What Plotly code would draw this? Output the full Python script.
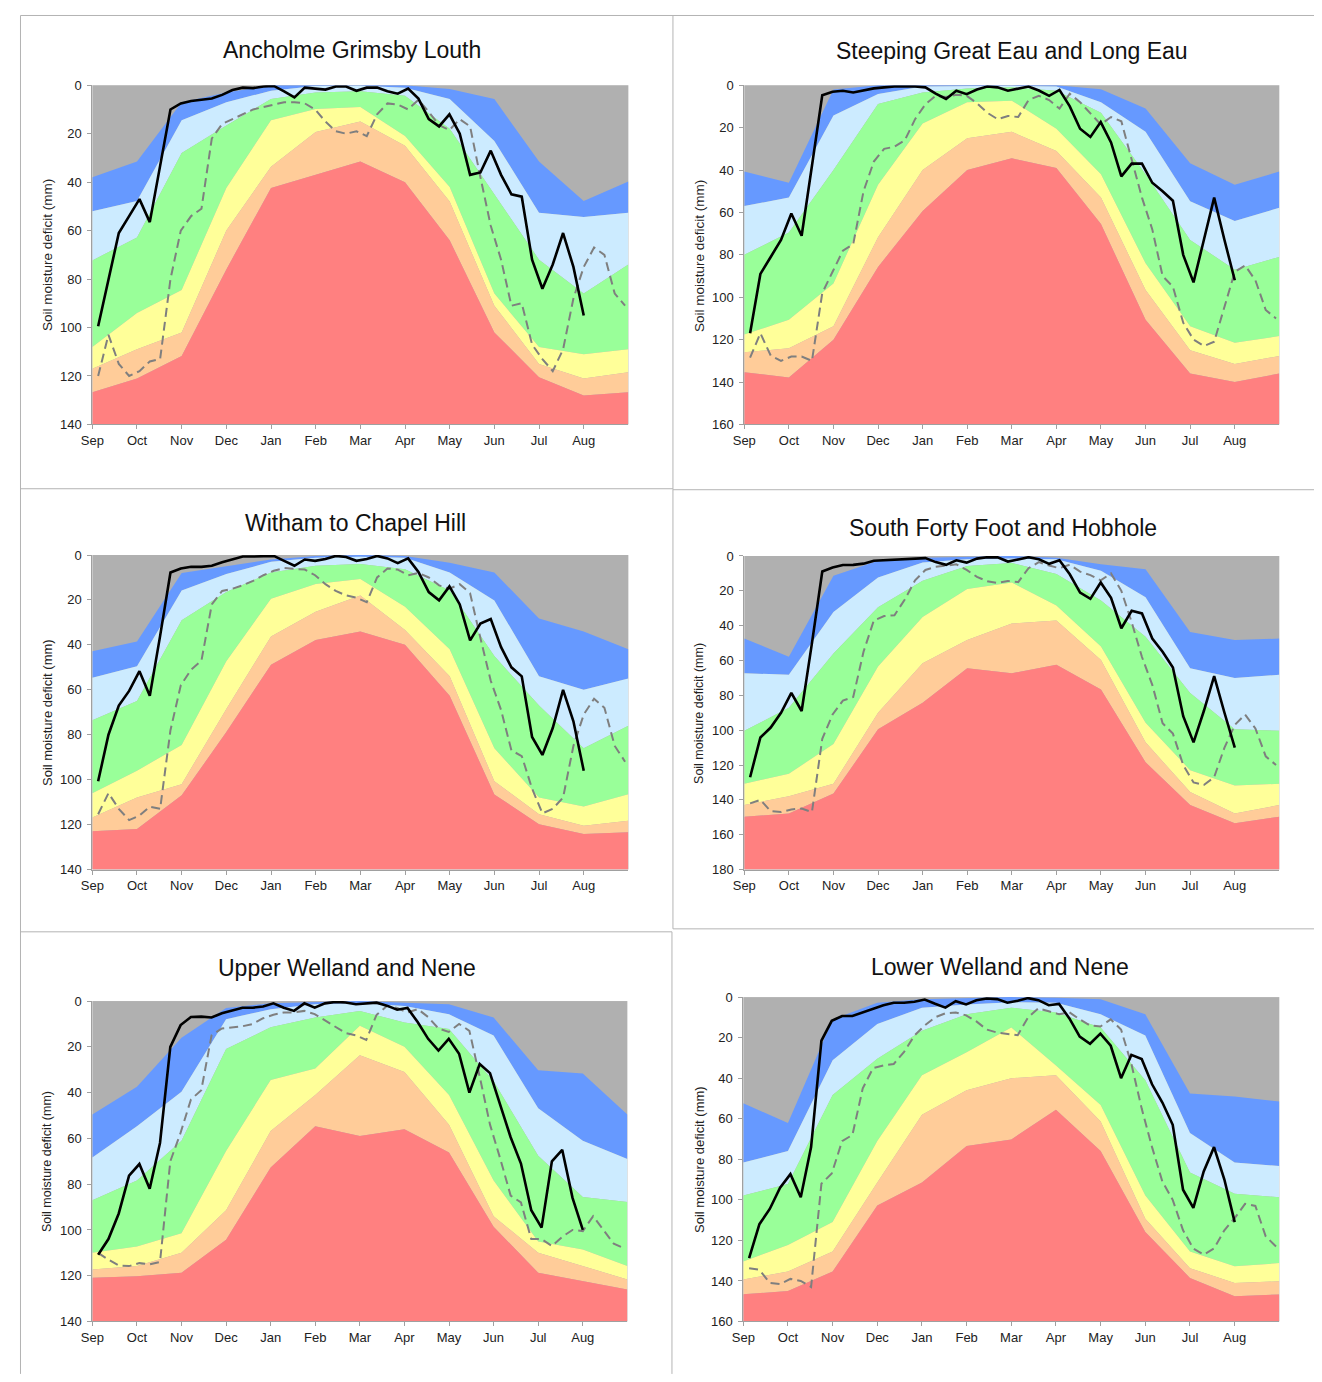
import plotly.graph_objects as go

PAGE_W, PAGE_H = 1322, 1382
BODY = 8                          # default page margin of the browser
W, H = PAGE_W - 2 * BODY, PAGE_H - 2 * BODY

MONTHS = ["Sep", "Oct", "Nov", "Dec", "Jan", "Feb", "Mar", "Apr", "May", "Jun", "Jul", "Aug"]
BAND_X = list(range(13))          # month starts Sep..Aug plus end of Aug
WEEK_START = 0.13                 # first weekly value (months after 1 Sep)
WEEK_STEP = 0.2313                # one week in months

# ---------------- Ancholme Grimsby Louth ----------------
ANC_BLUE   = [38, 31.5, 7, 3, 0, 0, 0, 0, 1.6, 5.7, 31.5, 47.8, 39.7]
ANC_LBLUE  = [52, 47.8, 14.5, 7, 2.3, 0.3, 0.2, 1, 5.7, 23, 52.6, 54.4, 52.6]
ANC_GREEN  = [72.3, 62.8, 28, 16.6, 5.7, 3, 2.5, 4.3, 18, 45, 72, 86, 74]
ANC_YELLOW = [108, 94, 84.5, 42.4, 14.5, 9.8, 9, 21, 42, 86, 108, 111, 109]
ANC_ORANGE = [117, 109, 102, 60, 33.6, 19.3, 15, 25, 48, 91, 115, 121, 118.5]
ANC_RED    = [126.7, 121, 111.7, 76, 42.4, 37, 31.5, 40, 64, 102, 120.5, 128, 126.7]
ANC_ACTUAL = [99.5, 80, 61, 54, 47, 56.5, 33, 10, 7.5, 6.5, 6, 5.5, 4, 2, 1, 1.2, 0.5, 0.3, 2.5, 5, 1, 1.3, 1.8, 0.5, 0.5,
              2.3, 1, 1, 2.5, 3.5, 1.4, 5.5, 14, 17, 12, 20, 37, 36, 27, 37, 45, 46, 72, 84, 74, 61, 75, 95]
ANC_LAST   = [120, 103, 115, 120, 118, 114, 113, 80, 60, 54, 51, 22, 16, 14, 12, 10, 9, 8, 7, 7, 7.5, 10, 15, 19, 20,
              19, 21, 12, 7.5, 8, 10, 6, 11, 16.5, 18.5, 14, 17, 38, 58, 72, 91, 90, 107, 113, 118, 109, 88, 75, 67, 70, 86, 91]

# ---------------- Steeping Great Eau and Long Eau ----------------
STE_BLUE   = [40.7, 46, 2, 0, 0, 0, 0, 0, 1.9, 11, 36.8, 47, 40.7]
STE_LBLUE  = [57, 53, 14.3, 4.2, 0.6, 0.3, 0.3, 0.6, 8, 22, 54.7, 64, 57.8]
STE_GREEN  = [80, 69.5, 40, 8.9, 3.4, 1.5, 1, 2.6, 13, 42, 73, 87, 81]
STE_YELLOW = [117.6, 110.6, 93.5, 47, 18, 8, 7.3, 20.5, 42, 84, 113.7, 121.5, 118.3]
STE_ORANGE = [126, 124, 113.7, 71.7, 40, 25, 22, 31, 53, 96.6, 125, 131.5, 127.7]
STE_RED    = [135.4, 137.8, 120, 85.7, 59.3, 40, 34.5, 39, 65.5, 110.6, 136, 140, 136]
STE_ACTUAL = [117, 89, 81, 73, 60.5, 71, 38, 4.7, 3.1, 2.6, 3.4, 2.5, 1.5, 1, 0.6, 0.6, 0.6, 1, 4, 6.5, 2.6, 4.2, 2, 0.6, 1,
              2.6, 1.5, 0.6, 2.5, 5, 2.2, 10, 20.5, 24.4, 17.4, 27, 43, 37, 37, 46, 50, 54.5, 80, 93, 73, 53, 73, 92]
STE_LAST   = [128.5, 117, 127.5, 130, 128, 128, 130, 98, 88, 78, 75, 50, 36, 30, 29, 26, 16, 9, 5, 5.5, 4.5, 5, 8.5, 13, 16,
              14.5, 15, 7, 5, 7, 11, 4, 8, 13, 18.5, 15, 17, 35, 53, 68, 90, 95, 112, 120, 123, 121, 104, 88, 85, 92, 106, 110]

# ---------------- Witham to Chapel Hill ----------------
WIT_BLUE   = [42.9, 38.5, 8, 5, 2, 0.5, 0, 0.4, 3.4, 7.8, 28.3, 34, 42]
WIT_LBLUE  = [54.6, 49.5, 15.8, 8.5, 3, 1.2, 0.8, 1.2, 7.8, 20.2, 54, 60, 55]
WIT_GREEN  = [73.6, 65, 29, 16.5, 7.8, 4.8, 4, 6.3, 15.8, 45, 67, 86, 76]
WIT_YELLOW = [106, 96, 84.6, 47.3, 19.5, 12.9, 10.7, 23, 42, 86, 108, 112, 106.5]
WIT_ORANGE = [116.8, 108, 102, 68.5, 36.3, 25.3, 18, 33.4, 54, 100.7, 115.4, 120.5, 118.3]
WIT_RED    = [123, 122, 107, 78.8, 48.8, 37.8, 34.1, 40, 62.7, 106.6, 119.8, 124.2, 123.4]
WIT_ACTUAL = [100.7, 80, 67, 60.5, 51.7, 62.7, 36, 7.8, 6, 5.2, 5.3, 4.8, 3.2, 2, 0.7, 0.7, 0.6, 0.4, 2.6, 4.8, 2, 2.6, 1.8, 0.4, 0.9,
              2.6, 1.8, 0.4, 1.5, 3.6, 1.5, 7.5, 16.5, 20.2, 14, 22, 38, 30.5, 28.5, 41, 50, 54, 81, 89, 77, 60, 74, 96]
WIT_LAST   = [115.4, 106, 113, 118, 116, 112, 113, 78, 58, 51, 47, 22, 16, 15, 13.5, 11.5, 9, 7, 5.8, 6, 6.5, 9, 13, 16, 18,
              19, 21, 10, 6, 6.5, 9, 8, 10, 13.5, 15, 13, 17, 37, 56, 69, 87, 89.5, 104, 115, 113, 108, 85, 71, 64, 68, 85, 92]

# ---------------- South Forty Foot and Hobhole ----------------
SFF_BLUE   = [47.4, 57.8, 11.4, 2.8, 1, 0.5, 0, 1, 4.7, 7.6, 43.6, 48.3, 47.4]
SFF_LBLUE  = [67.3, 68.2, 32.2, 12.3, 3.8, 1.9, 1.5, 1.9, 8.5, 23.7, 64.4, 70, 68.2]
SFF_GREEN  = [100.4, 87.2, 56, 29.4, 14.2, 5.7, 4, 10.4, 25.6, 46.4, 78.6, 99.5, 100.4]
SFF_YELLOW = [130.8, 125, 108, 63.5, 35, 19, 15.2, 28.4, 52, 95.7, 123, 131.7, 130.8]
SFF_ORANGE = [143, 138, 130.8, 90, 61.6, 48.3, 38.8, 37, 59.7, 107, 135.5, 147.8, 143]
SFF_RED    = [149.7, 147.8, 136.4, 99.5, 84.3, 64.4, 67.3, 62.5, 76.7, 118.4, 143, 153.5, 149.7]
SFF_ACTUAL = [127, 104.2, 98.5, 90, 78.6, 89, 50, 8.9, 6.6, 5.2, 5.1, 4.4, 2.7, 2.4, 1.7, 1.5, 1.3, 1.2, 3.5, 5.1, 2.5, 3.8, 1.5, 0.7, 0.8,
              3.2, 2, 0.7, 1.9, 4.5, 2.5, 10.5, 21, 24.6, 15.2, 24, 41.5, 31.5, 33, 47.4, 55, 64, 92, 107, 89, 69, 90, 110]
SFF_LAST   = [142, 140, 146.5, 147, 145.5, 145, 147, 105, 91, 83, 81, 55, 37, 34.5, 34, 25, 14, 8, 6.2, 5.3, 4.8, 8, 12, 14.5, 15.5,
              14.3, 15, 7, 3.5, 5.5, 7, 5, 9, 11, 14, 10, 20, 38, 58, 74, 96, 102, 120, 130, 131.5, 127, 110, 97, 91, 99, 115, 120]

# ---------------- Upper Welland and Nene ----------------
UWN_BLUE   = [49.6, 37.4, 16, 3, 1, 0.5, 0, 0.7, 1.4, 7.2, 30.2, 31.7, 49.6]
UWN_LBLUE  = [68.4, 54.7, 39.6, 7.9, 3.6, 1.4, 1, 2.2, 5.8, 15.1, 46.8, 61, 69]
UWN_GREEN  = [87, 78.4, 61, 20.9, 11.5, 7.2, 4.3, 9.4, 12.2, 35, 67.6, 85.6, 87.8]
UWN_YELLOW = [110, 107.2, 101.4, 65.5, 34.5, 29.5, 10.8, 20, 41, 78.4, 105, 108.6, 115.8]
UWN_ORANGE = [117.3, 115.8, 110, 91.4, 56.8, 41, 23.7, 31, 54, 94, 110, 115.8, 121.6]
UWN_RED    = [120.9, 120.2, 118.7, 104.3, 72.7, 54.7, 59, 56, 66.2, 98.6, 118.7, 122.3, 126]
UWN_ACTUAL = [110.8, 104, 92.8, 76.3, 71.2, 82, 62, 20, 10.5, 7, 6.8, 7.2, 5.3, 4, 2.9, 2.9, 2.4, 1, 2.9, 4.3, 1, 2.9, 1, 0.4, 0.6,
              1.4, 1, 0.7, 2, 3.8, 3, 9.3, 16.5, 21.6, 16.5, 23, 40, 27.5, 31.5, 46, 59.5, 71, 91.4, 99, 70, 65, 86, 100]
UWN_LAST   = [110, 113, 115.5, 115.8, 114.5, 115, 114, 70, 57.5, 43, 39, 15, 12, 11.5, 11, 10, 7.5, 6, 5, 5, 4.3, 5.7, 8.5, 11.5, 14,
              15, 17, 6, 2.2, 3, 5, 3.5, 7, 12, 13.5, 10, 13, 33, 54, 69, 85, 88, 104, 104, 107, 103, 100, 100.5, 94, 100, 106, 108]

# ---------------- Lower Welland and Nene ----------------
LWN_BLUE   = [52.4, 62.1, 11, 2.8, 1.1, 0.5, 0, 0.3, 1.1, 8.5, 47.5, 49, 51.5]
LWN_LBLUE  = [81.6, 75.9, 31.2, 13.3, 5.2, 3.6, 2.5, 2.8, 8.5, 19, 67, 81.6, 83.3]
LWN_GREEN  = [97.9, 92.2, 48.3, 30.4, 16.6, 8.5, 5.2, 7.6, 15, 41, 86.5, 97, 98.7]
LWN_YELLOW = [130.4, 122.3, 110.9, 71, 38.5, 27.2, 15, 33.7, 53.2, 97.9, 125.5, 132.8, 131.2]
LWN_ORANGE = [139.3, 135.3, 125.5, 91.4, 58, 45.9, 40, 38.5, 61.3, 109.3, 133.7, 141, 140.2]
LWN_RED    = [146.6, 145, 135.3, 102.8, 91.4, 73.5, 70.2, 55.6, 75.9, 115.8, 138.5, 147.5, 146.7]
LWN_ACTUAL = [128.8, 112, 104.5, 94, 87.3, 98.7, 74, 21.5, 11.7, 9.3, 9.3, 7.6, 6, 4, 2.8, 2.8, 2.3, 1.2, 3.3, 5.2, 2, 3.6, 1.6, 0.7, 1,
              2.8, 1.8, 0.5, 1.5, 4, 3.4, 10.5, 19.5, 23, 18, 24, 40, 28.5, 30.5, 43, 52, 63, 95, 104, 86, 74, 90, 111]
LWN_LAST   = [133.7, 134.5, 141, 141.5, 139, 140, 143, 92, 87, 71, 68, 45, 35, 33.7, 33, 27, 19, 14, 10, 8, 7.6, 9, 12, 16, 17.5,
              18, 18.8, 10, 5.5, 7, 8.5, 7.5, 11, 14, 14.5, 11, 16, 33, 55, 74, 91, 100, 115, 124, 127, 124, 115, 109, 102, 103, 118, 123]

TITLES = ["Ancholme Grimsby Louth", "Steeping Great Eau and Long Eau", "Witham to Chapel Hill",
          "South Forty Foot and Hobhole", "Upper Welland and Nene", "Lower Welland and Nene"]
YMAX = [140, 160, 140, 180, 140, 160]
Y_TITLE = "Soil moisture deficit (mm)"

BANDS = [
    [ANC_BLUE, ANC_LBLUE, ANC_GREEN, ANC_YELLOW, ANC_ORANGE, ANC_RED],
    [STE_BLUE, STE_LBLUE, STE_GREEN, STE_YELLOW, STE_ORANGE, STE_RED],
    [WIT_BLUE, WIT_LBLUE, WIT_GREEN, WIT_YELLOW, WIT_ORANGE, WIT_RED],
    [SFF_BLUE, SFF_LBLUE, SFF_GREEN, SFF_YELLOW, SFF_ORANGE, SFF_RED],
    [UWN_BLUE, UWN_LBLUE, UWN_GREEN, UWN_YELLOW, UWN_ORANGE, UWN_RED],
    [LWN_BLUE, LWN_LBLUE, LWN_GREEN, LWN_YELLOW, LWN_ORANGE, LWN_RED],
]
ACTUAL = [ANC_ACTUAL, STE_ACTUAL, WIT_ACTUAL, SFF_ACTUAL, UWN_ACTUAL, LWN_ACTUAL]
LAST = [ANC_LAST, STE_LAST, WIT_LAST, SFF_LAST, UWN_LAST, LWN_LAST]

# ---------------- layout (page pixels) ----------------
PLOT_PX = [(81, 622, 79, 422), (739, 1279, 79, 422),
           (81, 622, 554, 872), (739, 1279, 555, 872),
           (81, 621, 1005, 1329), (738, 1279, 1001, 1329)]
TITLE_PX = [(343, 43), (1009, 44), (347, 522), (1000, 527), (338, 972), (997, 971)]
YTITLE_PX = [(36, 251), (694, 252), (36, 713), (694, 714), (36, 1167), (694, 1165)]
YTITLE_SIZE = [13.5, 13.5, 13, 12.5, 12.5, 13]

GREY = "#B0B0B0"
FILLS = ["#6699FF", "#CCEBFF", "#99FF99", "#FFFF99", "#FFCC99", "#FF8080"]
FONT = "Liberation Sans, Arial, sans-serif"


def px(x):
    return (x - BODY) / W


def py(y):
    return 1 - (y - BODY) / H


fig = go.Figure()
layout = {}
annotations = []

for i in range(6):
    n = i + 1
    xa = "x" if n == 1 else f"x{n}"
    ya = "y" if n == 1 else f"y{n}"
    ymax = YMAX[i]
    bounds = BANDS[i] + [[ymax] * len(BAND_X)]
    for k, b in enumerate(bounds):
        fig.add_trace(go.Scatter(
            x=BAND_X, y=b, mode="lines", line=dict(width=0, color="rgba(0,0,0,0)"),
            fill=None if k == 0 else "tonexty",
            fillcolor=None if k == 0 else FILLS[k - 1],
            hoverinfo="skip", showlegend=False, xaxis=xa, yaxis=ya))
    last = LAST[i]
    fig.add_trace(go.Scatter(
        x=[WEEK_START + j * WEEK_STEP for j in range(len(last))], y=last, mode="lines",
        line=dict(color="#7F7F7F", width=2, dash="9px,5px"),
        showlegend=False, xaxis=xa, yaxis=ya))
    act = ACTUAL[i]
    fig.add_trace(go.Scatter(
        x=[WEEK_START + j * WEEK_STEP for j in range(len(act))], y=act, mode="lines",
        line=dict(color="#000000", width=2.6),
        showlegend=False, xaxis=xa, yaxis=ya))

    x0, x1, y0, y1 = PLOT_PX[i]
    key_x = "xaxis" if n == 1 else f"xaxis{n}"
    key_y = "yaxis" if n == 1 else f"yaxis{n}"
    layout[key_x] = dict(
        domain=[px(x0), px(x1)], anchor=ya, range=[0, 12],
        tickvals=list(range(12)), ticktext=MONTHS,
        ticks="outside", ticklen=4, tickcolor="#A0A0A0",
        showline=True, linecolor="#A0A0A0", linewidth=1,
        showgrid=False, zeroline=False, fixedrange=True,
        tickfont=dict(family=FONT, size=13, color="#222"))
    layout[key_y] = dict(
        domain=[py(y1), py(y0)], anchor=xa, range=[ymax, 0],
        tickvals=list(range(0, ymax + 1, 20)),
        ticks="outside", ticklen=4, tickcolor="#A0A0A0",
        showline=True, linecolor="#A0A0A0", linewidth=1,
        showgrid=False, zeroline=False, fixedrange=True,
        ticklabelstandoff=3,
        tickfont=dict(family=FONT, size=13, color="#222"))

    tx, ty = TITLE_PX[i]
    annotations.append(dict(
        text=TITLES[i], x=px(tx), y=py(ty), xref="paper", yref="paper",
        xanchor="center", yanchor="middle", showarrow=False,
        font=dict(family=FONT, size=23, color="#111")))
    yx, yy = YTITLE_PX[i]
    annotations.append(dict(
        text=Y_TITLE, x=px(yx), y=py(yy), xref="paper", yref="paper",
        xanchor="center", yanchor="middle", showarrow=False, textangle=-90,
        font=dict(family=FONT, size=YTITLE_SIZE[i], color="#222")))

# panel frames (page pixels)
FRAME_LINES = [
    (8.5, 8.5, 1322, 8.5), (8.5, 8.5, 8.5, 1382),
    (667, 8, 667, 488), (667, 488, 667, 932), (666, 935, 666, 1382),
    (8, 487, 667, 487), (667, 488, 1322, 488),
    (8, 935, 666, 935), (667, 932, 1322, 932),
]
shapes = [dict(type="line", xref="paper", yref="paper",
               x0=px(a), y0=py(b), x1=px(c), y1=py(d),
               line=dict(color="#B4B4B4", width=1)) for a, b, c, d in FRAME_LINES]

fig.update_layout(
    width=W, height=H, margin=dict(l=0, r=0, t=0, b=0),
    paper_bgcolor="white", plot_bgcolor=GREY,
    showlegend=False, annotations=annotations, shapes=shapes,
    font=dict(family=FONT), **layout)

fig.write_html("out.html", config={"displayModeBar": False})
